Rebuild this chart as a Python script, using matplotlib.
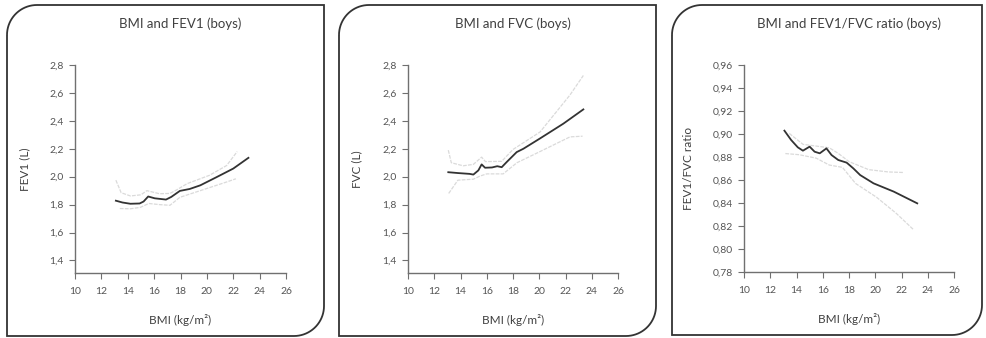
import numpy as np
import matplotlib
matplotlib.use('Agg')
import matplotlib.pyplot as plt
from matplotlib.path import Path
from matplotlib.patches import PathPatch
from matplotlib.ticker import FuncFormatter

plt.rcParams['font.family'] = ['Lato', 'DejaVu Sans']

# BMI and FEV1 (boys)
fev1_bmi = [13.1, 13.6, 14.2, 14.9, 15.2, 15.55, 16.05, 16.9, 17.3, 17.95, 18.7, 19.5, 20.7, 22.0, 23.15]
fev1_mean = [1.828, 1.815, 1.806, 1.808, 1.822, 1.858, 1.845, 1.836, 1.855, 1.898, 1.912, 1.938, 1.995, 2.058, 2.135]
fev1_up_bmi = [13.1, 13.5, 14.2, 15.0, 15.45, 16.4, 17.2, 17.7, 18.5, 20.2, 21.5, 22.3]
fev1_up = [1.975, 1.885, 1.862, 1.870, 1.900, 1.878, 1.880, 1.905, 1.950, 2.010, 2.080, 2.180]
fev1_lo_bmi = [13.4, 14.2, 14.95, 15.6, 16.4, 17.2, 17.95, 19.5, 21.5, 22.2]
fev1_lo = [1.772, 1.770, 1.780, 1.808, 1.800, 1.795, 1.852, 1.900, 1.962, 1.985]

# BMI and FVC (boys)
fvc_bmi = [13.07, 13.8, 14.7, 14.98, 15.36, 15.61, 15.87, 16.4, 16.8, 17.14, 17.52, 18.28, 18.79, 20.06, 21.84, 23.36]
fvc_mean = [2.032, 2.026, 2.020, 2.015, 2.045, 2.088, 2.064, 2.066, 2.075, 2.068, 2.105, 2.176, 2.200, 2.274, 2.380, 2.482]
fvc_up_bmi = [13.07, 13.3, 14.2, 14.98, 15.61, 15.9, 17.14, 18.0, 20.06, 22.34, 23.36]
fvc_up = [2.190, 2.100, 2.078, 2.088, 2.140, 2.108, 2.110, 2.195, 2.320, 2.585, 2.725]
fvc_lo_bmi = [13.1, 13.8, 14.98, 15.5, 16.0, 17.25, 18.3, 20.06, 22.34, 23.3]
fvc_lo = [1.880, 1.975, 1.982, 2.005, 2.020, 2.020, 2.100, 2.180, 2.285, 2.290]

# BMI and FEV1/FVC ratio (boys)
ratio_bmi = [13.08, 13.59, 14.1, 14.49, 15.0, 15.38, 15.77, 16.28, 16.67, 17.18, 17.82, 18.33, 18.85, 19.87, 21.41, 23.2]
ratio_mean = [0.9029, 0.8948, 0.8884, 0.8855, 0.8890, 0.8846, 0.8832, 0.8875, 0.8817, 0.8774, 0.8751, 0.8701, 0.8643, 0.8571, 0.8499, 0.8397]
ratio_up_bmi = [13.45, 14.5, 15.5, 16.5, 17.2, 18.0, 19.5, 21.0, 22.2]
ratio_up = [0.9005, 0.8910, 0.8895, 0.8880, 0.8830, 0.8760, 0.8690, 0.8670, 0.8665]
ratio_lo_bmi = [13.15, 14.2, 15.5, 16.5, 17.5, 18.5, 20.1, 21.6, 22.9]
ratio_lo = [0.8830, 0.8820, 0.8790, 0.8730, 0.8710, 0.8570, 0.8450, 0.8310, 0.8170]

titles = ['BMI and FEV1 (boys)', 'BMI and FVC (boys)', 'BMI and FEV1/FVC ratio (boys)']
ylabels = ['FEV1 (L)', 'FVC (L)', 'FEV1/FVC ratio']
xlabel = 'BMI (kg/m\u00b2)'
xticks = [10, 12, 14, 16, 18, 20, 22, 24, 26]
yticks_l = [1.4, 1.6, 1.8, 2.0, 2.2, 2.4, 2.6, 2.8]
yticks_r = [0.78, 0.80, 0.82, 0.84, 0.86, 0.88, 0.90, 0.92, 0.94, 0.96]

W, H = 986, 338
fig = plt.figure(figsize=(W / 100, H / 100), dpi=100)
fig.patch.set_facecolor('white')


def frame(x0, x1, y0, y1, r=30):
    # box with rounded top-left and bottom-right corners, pixel coords (y from top)
    pts = []
    t = np.linspace(np.pi, np.pi / 2, 20)
    pts += [(x0 + r + r * np.cos(a), y0 + r - r * np.sin(a)) for a in t]
    pts += [(x1, y0), (x1, y1 - r)]
    t = np.linspace(0, -np.pi / 2, 20)
    pts += [(x1 - r + r * np.cos(a), y1 - r - r * np.sin(a)) for a in t]
    pts += [(x0, y1), (x0, y0 + r)]
    pts = [(px / W, 1 - py / H) for px, py in pts]
    p = PathPatch(Path(pts), facecolor='none', edgecolor='#333333', lw=1.3,
                  transform=fig.transFigure)
    fig.add_artist(p)


frame(7, 324, 5, 336)
frame(339, 656, 5, 336)
frame(672, 982, 5, 335)

# axes boxes in pixels: left, right, top, bottom
boxes = [(75, 286, 65, 273), (408, 618, 65, 273), (744, 954, 65, 272)]
ylabel_off = [45, 46, 50]
axes = []
for (l, r, t, b) in boxes:
    ax = fig.add_axes([l / W, 1 - b / H, (r - l) / W, (b - t) / H])
    axes.append(ax)

series = [
    (fev1_bmi, fev1_mean, fev1_up_bmi, fev1_up, fev1_lo_bmi, fev1_lo),
    (fvc_bmi, fvc_mean, fvc_up_bmi, fvc_up, fvc_lo_bmi, fvc_lo),
    (ratio_bmi, ratio_mean, ratio_up_bmi, ratio_up, ratio_lo_bmi, ratio_lo),
]

for i, ax in enumerate(axes):
    bx, m, ubx, u, lbx, lo = series[i]
    ax.plot(ubx, u, color='#dadada', lw=0.9, ls=(0, (3, 1)))
    ax.plot(lbx, lo, color='#dadada', lw=0.9, ls=(0, (3, 1)))
    ax.plot(bx, m, color='#333333', lw=1.3)

    ax.set_xlim(10, 26)
    ax.set_xticks(xticks)
    if i < 2:
        ax.set_ylim(1.31, 2.8)
        ax.set_yticks(yticks_l)
        ax.yaxis.set_major_formatter(FuncFormatter(lambda v, p: f'{v:.1f}'.replace('.', ',')))
    else:
        ax.set_ylim(0.78, 0.96)
        ax.set_yticks(yticks_r)
        ax.yaxis.set_major_formatter(FuncFormatter(lambda v, p: f'{v:.2f}'.replace('.', ',')))

    for s in ['top', 'right']:
        ax.spines[s].set_visible(False)
    for s in ['left', 'bottom']:
        ax.spines[s].set_color('#707070')
        ax.spines[s].set_linewidth(1.0)
    ax.tick_params(axis='both', colors='#707070', labelcolor='#555555',
                   labelsize=7.5, length=4, width=0.8, pad=4)
    ax.tick_params(axis='x', pad=6)

    ax.set_title(titles[i], fontsize=9.5, color='#404040', pad=27)
    ax.set_xlabel(xlabel, fontsize=8.5, color='#404040', labelpad=13)
    ax.set_ylabel(ylabels[i], fontsize=8.5, color='#404040')
    w = boxes[i][1] - boxes[i][0]
    ax.yaxis.set_label_coords(-ylabel_off[i] / w, 0.5)
    ax.set_facecolor('white')

fig.savefig('out.png', dpi=100)
